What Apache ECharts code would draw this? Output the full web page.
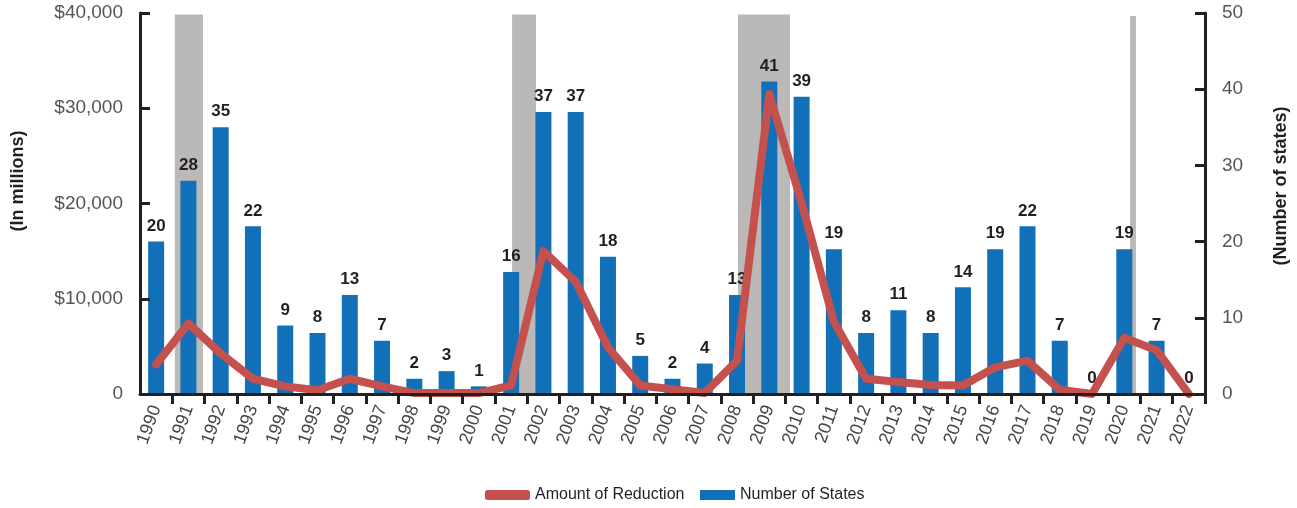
<!DOCTYPE html>
<html>
<head>
<meta charset="utf-8">
<style>
  html, body { margin: 0; padding: 0; background: #ffffff; }
  #chart { width: 1297px; height: 508px; }
</style>
<script src="https://cdn.jsdelivr.net/npm/echarts@6/dist/echarts.min.js"></script>
</head>
<body>
<div id="chart"></div>
<script>
// Fiscal years shown on the category axis
const years = ['1990','1991','1992','1993','1994','1995','1996','1997','1998','1999','2000',
  '2001','2002','2003','2004','2005','2006','2007','2008','2009','2010','2011','2012','2013',
  '2014','2015','2016','2017','2018','2019','2020','2021','2022'];

// Number of states making mid-year budget reductions (right axis)
const numberOfStates = [20,28,35,22,9,8,13,7,2,3,1,16,37,37,18,5,2,4,13,41,39,19,8,11,8,14,19,22,7,0,19,7,0];

// Amount of mid-year budget reductions, $ millions (left axis)
const amountOfReduction = [3100,7400,4250,1600,800,400,1600,800,100,100,100,900,15000,11800,4900,900,500,100,
  3500,31500,20100,7600,1600,1250,950,900,2800,3500,450,0,5900,4600,0];

// Recession periods, in category-axis units (year index 0 = 1990 starts at 0)
const recessionStart = [1.08, 11.53, 18.53, 30.68];
const recessionEnd   = [1.95, 12.27, 20.14, 30.86];
const recessionTop   = [49.8, 49.8, 49.8, 49.6];

// Axis tick values
const leftTicks = { min: 0, max: 40000, interval: 10000 };
const rightTicks = { min: 0, max: 50, interval: 10 };

const FONT = '"Liberation Sans", Arial, sans-serif';
const INK = '#231f20';
const BLUE = '#1170b8';
const RED = '#c4514e';
const GRAY = '#bab9b7';

const recessionData = recessionStart.map((s, i) => [s, recessionEnd[i], recessionTop[i]]);

const chart = echarts.init(document.getElementById('chart'), null, { renderer: 'canvas' });

chart.setOption({
  animation: false,
  backgroundColor: '#ffffff',
  grid: { left: 140, right: 92, top: 13, bottom: 114, containLabel: false },
  xAxis: [
    {
      type: 'category',
      data: years,
      boundaryGap: true,
      axisLine: { show: true, lineStyle: { color: INK, width: 3 } },
      axisTick: {
        show: true, inside: false, length: 10,
        lineStyle: { color: INK, width: 3 },
        interval: (idx) => idx !== 0
      },
      axisLabel: {
        rotate: 70, margin: 12, color: '#444444',
        fontFamily: FONT, fontSize: 18, interval: 0
      },
      splitLine: { show: false },
      z: 5
    },
    {
      type: 'value', min: 0, max: 33, show: false
    }
  ],
  yAxis: [
    {
      type: 'value',
      position: 'left',
      min: leftTicks.min, max: leftTicks.max, interval: leftTicks.interval,
      axisLine: { show: true, lineStyle: { color: INK, width: 3 } },
      axisTick: { show: true, inside: true, length: 10, lineStyle: { color: INK, width: 3 } },
      axisLabel: {
        margin: 17, color: '#555555', fontFamily: FONT, fontSize: 19,
        formatter: (v) => v === 0 ? '0' : '$' + v.toLocaleString('en-US')
      },
      splitLine: { show: false },
      z: 5
    },
    {
      type: 'value',
      position: 'right',
      min: rightTicks.min, max: rightTicks.max, interval: rightTicks.interval,
      axisLine: { show: true, lineStyle: { color: INK, width: 3 } },
      axisTick: { show: true, inside: true, length: 10, lineStyle: { color: INK, width: 3 } },
      axisLabel: { margin: 17, color: '#555555', fontFamily: FONT, fontSize: 19 },
      splitLine: { show: false },
      z: 5
    }
  ],
  legend: [
    {
      left: 485, top: 487, padding: 0,
      itemWidth: 45, itemHeight: 10, itemGap: 6,
      icon: 'roundRect',
      data: [{ name: 'Amount of Reduction', itemStyle: { color: RED } }],
      textStyle: { color: INK, fontFamily: FONT, fontSize: 16 }
    },
    {
      left: 700, top: 487, padding: 0,
      itemWidth: 35, itemHeight: 10,
      icon: 'rect',
      data: [{ name: 'Number of States', itemStyle: { color: BLUE } }],
      textStyle: { color: INK, fontFamily: FONT, fontSize: 16 }
    }
  ],
  graphic: [
    {
      type: 'text', x: 18, y: 181, rotation: Math.PI / 2,
      style: {
        text: '(In millions)', fill: INK, fontFamily: FONT, fontWeight: 'bold', fontSize: 18,
        textAlign: 'center', textVerticalAlign: 'middle'
      }
    },
    {
      type: 'text', x: 1281, y: 186, rotation: Math.PI / 2,
      style: {
        text: '(Number of states)', fill: INK, fontFamily: FONT, fontWeight: 'bold', fontSize: 18,
        textAlign: 'center', textVerticalAlign: 'middle'
      }
    }
  ],
  series: [
    {
      name: 'Recession',
      type: 'custom',
      xAxisIndex: 1,
      yAxisIndex: 1,
      silent: true,
      z: 1,
      data: recessionData,
      renderItem: (params, api) => {
        const p0 = api.coord([api.value(0), api.value(2)]);
        const p1 = api.coord([api.value(1), 0]);
        return {
          type: 'rect',
          shape: { x: p0[0], y: p0[1], width: p1[0] - p0[0], height: p1[1] - p0[1] },
          style: { fill: GRAY }
        };
      }
    },
    {
      name: 'Number of States',
      type: 'bar',
      xAxisIndex: 0,
      yAxisIndex: 1,
      data: numberOfStates,
      barWidth: 16,
      itemStyle: { color: BLUE },
      z: 2,
      label: {
        show: true, position: 'top', distance: 7,
        color: INK, fontFamily: FONT, fontWeight: 'bold', fontSize: 17
      }
    },
    {
      name: 'Amount of Reduction',
      type: 'line',
      xAxisIndex: 0,
      yAxisIndex: 0,
      data: amountOfReduction,
      showSymbol: false,
      symbol: 'none',
      itemStyle: { color: RED },
      lineStyle: { color: RED, width: 8, cap: 'round', join: 'round' },
      z: 3
    }
  ]
});
</script>
</body>
</html>
